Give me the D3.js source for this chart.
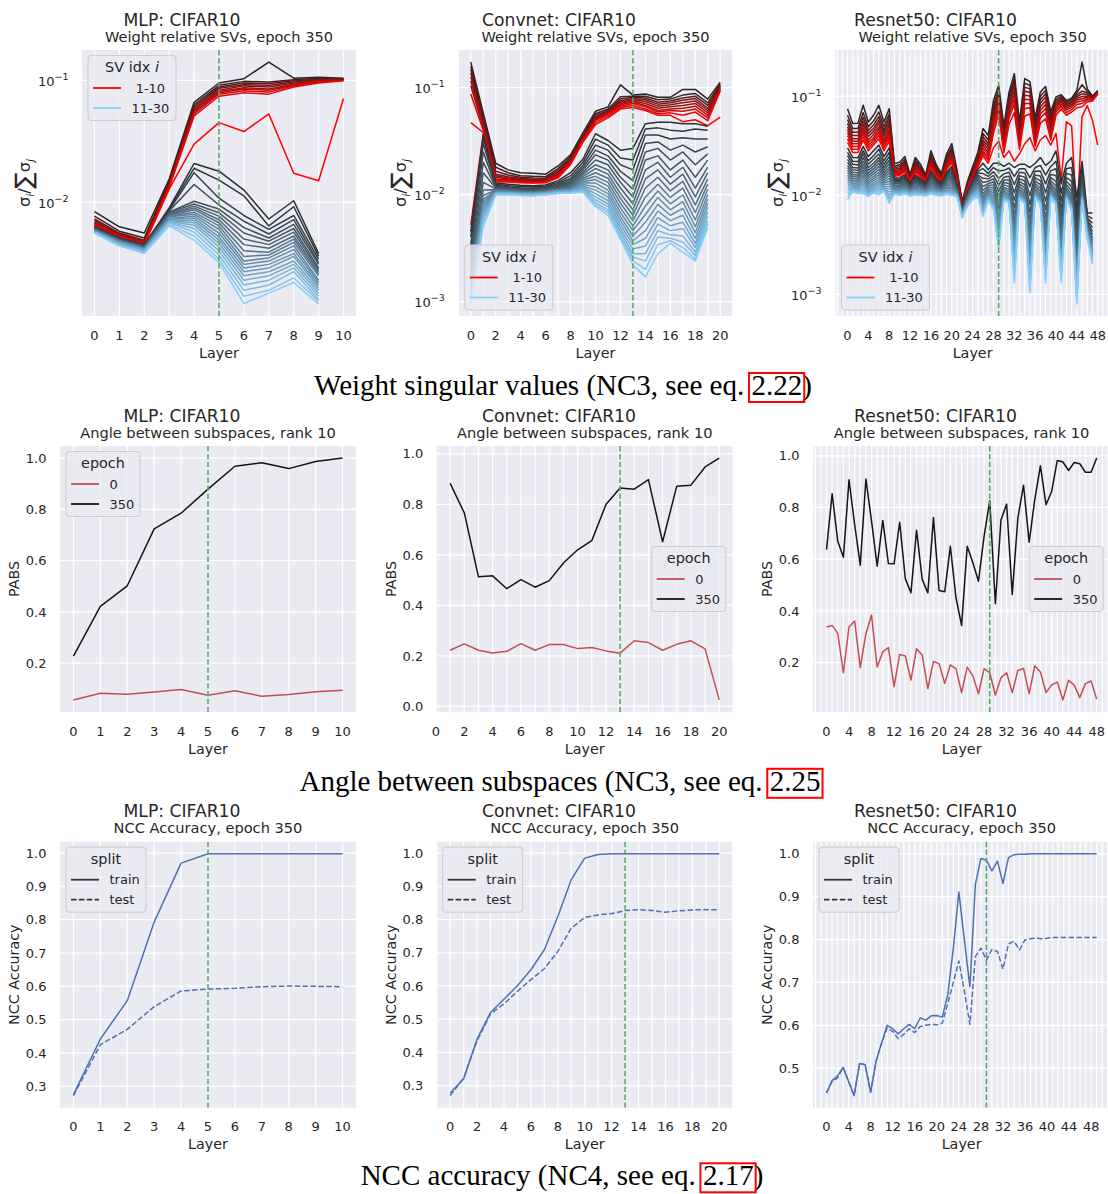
<!DOCTYPE html>
<html>
<head>
<meta charset="utf-8">
<script src="https://cdn.jsdelivr.net/npm/d3@7"></script>
<style>
  body { margin: 0; background: #fff; }
  svg text { font-family: "DejaVu Sans", sans-serif; fill: #262626; }
  .tick { font-size: 13px; }
  .lab { font-size: 14.3px; }
  .sub { font-size: 14.6px; }
  .sup { font-size: 17.2px; }
  svg text.cap { font-family: "Liberation Serif", serif; font-size: 29px; fill: #000; }
</style>
</head>
<body>
<svg id="fig" width="1108" height="1194"></svg>
<script>
// ---------- data: relative singular values, one column per layer, SV index 1..30 ----------
const mlpSV = [
  [.0084,.0077,.0073,.0071,.0069,.0068,.0067,.0066,.0065,.0064,.0063,.0063,.0062,.0062,.0061,.0061,.006,.006,.006,.0059,.0059,.0059,.0058,.0058,.0058,.0057,.0057,.0057,.0056,.0056],
  [.0063,.0058,.0056,.0055,.0054,.0054,.0053,.0053,.0052,.0052,.0051,.0051,.005,.005,.005,.0049,.0049,.0049,.0048,.0048,.0048,.0047,.0047,.0047,.0046,.0046,.0045,.0045,.0044,.0044],
  [.0056,.0051,.0049,.0048,.0048,.0047,.0047,.0046,.0046,.0045,.0045,.0045,.0044,.0044,.0044,.0043,.0043,.0043,.0042,.0042,.0042,.0041,.0041,.0041,.004,.004,.004,.0039,.0039,.0038],
  [.0155,.015,.0146,.0143,.014,.0138,.0136,.0134,.0132,.0128,.009,.0088,.0086,.0085,.0083,.0082,.008,.0079,.0078,.0077,.0076,.0074,.0073,.0072,.0071,.007,.0069,.0068,.0066,.0064],
  [.066,.063,.061,.059,.057,.056,.055,.053,.051,.030,.0208,.019,.0175,.014,.0102,.0097,.0093,.009,.0087,.0083,.008,.0077,.0074,.0071,.0068,.0065,.0061,.0057,.0053,.0049],
  [.095,.091,.088,.086,.083,.081,.079,.077,.074,.045,.018,.0152,.0108,.0095,.0088,.0082,.0077,.0072,.0068,.0064,.006,.0056,.0052,.0049,.0046,.0043,.004,.0037,.0034,.0032],
  [.103,.098,.095,.092,.09,.087,.085,.082,.079,.038,.0126,.0113,.0078,.007,.0062,.0056,.005,.0045,.004,.0036,.0033,.0031,.0029,.0027,.0025,.0023,.0021,.0019,.0017,.00148],
  [.141,.097,.094,.091,.088,.085,.083,.08,.077,.053,.0073,.0064,.006,.0055,.0051,.0048,.0045,.0042,.0039,.0037,.0035,.0033,.0031,.0029,.0027,.0025,.0023,.0021,.0019,.0018],
  [.104,.101,.099,.097,.095,.093,.091,.09,.088,.0173,.0103,.0092,.0078,.0072,.0066,.0061,.0057,.0053,.005,.0047,.0044,.0041,.0038,.0036,.0033,.0031,.0029,.0027,.0024,.0022],
  [.106,.104,.102,.101,.1,.099,.098,.097,.095,.015,.0038,.0036,.0034,.0032,.0031,.0029,.0028,.0027,.0026,.0025,.0023,.0022,.0021,.002,.0019,.0018,.0017,.0016,.00155,.00147],
  [.104,.103,.102,.102,.101,.101,.1,.1,.099,.071]
];
const convSV = [
  [.173,.158,.147,.137,.126,.115,.104,.087,.047,.0052,.0045,.004,.0034,.003,.0027,.0024,.0022,.002,.0019,.0018,.0017,.0016,.0015,.0014,.0013,.0012,.0011,.001,.00098,.00095],
  [.058,.054,.051,.048,.046,.044,.042,.04,.038,.037,.036,.034,.03,.025,.02,.016,.013,.011,.0098,.009,.0085,.008,.0076,.0072,.0068,.0064,.006,.0056,.0053,.005],
  [.0196,.018,.0165,.0155,.015,.0145,.014,.0137,.0134,.0132,.0128,.0125,.0122,.0119,.0117,.0115,.0113,.0111,.011,.0109,.0108,.0107,.0106,.0105,.0104,.0103,.0102,.0101,.01,.0099],
  [.017,.016,.0152,.0147,.0143,.014,.0137,.0135,.0133,.0131,.0125,.0121,.0118,.0116,.0114,.0112,.0111,.011,.0109,.0108,.0107,.0106,.0105,.0104,.0104,.0103,.0102,.0101,.01,.0099],
  [.016,.015,.0145,.0141,.0138,.0136,.0134,.0132,.013,.0129,.0122,.0119,.0116,.0114,.0112,.011,.0109,.0108,.0107,.0106,.0105,.0104,.0103,.0103,.0102,.0101,.01,.0099,.0099,.0098],
  [.0158,.0148,.0143,.0139,.0136,.0134,.0132,.013,.0129,.0128,.0121,.0118,.0115,.0113,.0111,.0109,.0108,.0107,.0106,.0105,.0104,.0103,.0103,.0102,.0101,.01,.01,.0099,.0098,.0097],
  [.0155,.0147,.0142,.0138,.0136,.0134,.0132,.0131,.013,.0129,.0123,.012,.0117,.0115,.0113,.0111,.011,.0109,.0108,.0107,.0106,.0105,.0104,.0104,.0103,.0102,.0101,.0101,.01,.0099],
  [.0185,.0175,.0168,.0162,.0158,.0155,.0152,.0149,.0146,.0143,.0135,.013,.0126,.0122,.0119,.0117,.0115,.0113,.0112,.0111,.011,.0109,.0108,.0107,.0106,.0105,.0104,.0104,.0103,.0102],
  [.0235,.0225,.0218,.0212,.0207,.0203,.02,.0197,.0194,.019,.016,.015,.0142,.0136,.0131,.0127,.0123,.012,.0117,.0115,.0113,.0111,.011,.0109,.0108,.0107,.0106,.0105,.0104,.0103],
  [.038,.036,.035,.034,.0335,.033,.0325,.032,.0315,.031,.0215,.02,.0188,.0178,.017,.0162,.0155,.0148,.0142,.0137,.0132,.0128,.0124,.012,.0117,.0114,.0111,.0109,.0107,.0105],
  [.06,.057,.055,.053,.052,.051,.05,.049,.047,.045,.037,.033,.029,.026,.0235,.021,.019,.0175,.016,.0148,.0138,.0128,.0118,.011,.0102,.0095,.0089,.0084,.008,.0077],
  [.066,.063,.061,.06,.059,.058,.057,.056,.054,.052,.032,.029,.026,.023,.021,.019,.017,.0155,.0142,.013,.012,.011,.0102,.0095,.0088,.0082,.0077,.0072,.0068,.0064],
  [.106,.082,.078,.075,.073,.071,.069,.067,.065,.063,.026,.022,.019,.0165,.0145,.013,.0115,.0102,.0092,.0083,.0075,.0068,.0062,.0057,.0052,.0048,.0045,.0042,.004,.0038],
  [.085,.083,.081,.079,.077,.075,.073,.071,.068,.065,.027,.021,.017,.0135,.0112,.0095,.0082,.0072,.0064,.0057,.0051,.0046,.0041,.0037,.0034,.0031,.0028,.0026,.0024,.0022],
  [.087,.083,.08,.077,.074,.071,.068,.066,.063,.061,.046,.041,.036,.03,.025,.021,.017,.014,.0115,.0095,.0078,.0065,.0055,.0046,.0039,.0033,.0028,.0024,.002,.0017],
  [.081,.077,.073,.07,.067,.064,.061,.059,.057,.055,.0475,.042,.036,.031,.027,.023,.02,.017,.0145,.0125,.0108,.0094,.0081,.007,.0061,.0053,.0046,.004,.0034,.0028],
  [.081,.078,.075,.072,.069,.066,.063,.061,.058,.055,.0475,.04,.033,.026,.021,.017,.0145,.0125,.0108,.0094,.0082,.0072,.0064,.0057,.0051,.0046,.0042,.0039,.0037,.0035],
  [.096,.085,.08,.076,.072,.068,.064,.06,.055,.048,.046,.039,.034,.029,.025,.021,.018,.0155,.0133,.0115,.0099,.0086,.0074,.0064,.0055,.0048,.0041,.0036,.0032,.0029],
  [.096,.088,.083,.079,.075,.071,.067,.063,.059,.05,.046,.041,.033,.025,.019,.0145,.0115,.0095,.008,.0068,.0058,.005,.0044,.0039,.0035,.0032,.0029,.0027,.0025,.0024],
  [.078,.072,.068,.064,.061,.058,.055,.052,.049,.044,.0435,.04,.033,.028,.024,.021,.018,.016,.014,.0125,.0112,.01,.0091,.0083,.0076,.0069,.0063,.0057,.0053,.0049],
  [.112,.108,.105,.103,.101,.099,.097,.095,.093,.053]
];
const resSV = [
  [.0746,.064,.058,.053,.049,.046,.043,.04,.037,.034,.03,.027,.025,.023,.0215,.02,.019,.018,.017,.016,.0152,.0144,.0137,.013,.0123,.0117,.0111,.0105,.0098,.009],
  [.0527,.047,.043,.04,.037,.035,.033,.031,.029,.027,.024,.022,.0205,.019,.018,.017,.0162,.0155,.0148,.0142,.0137,.0132,.0128,.0124,.012,.0117,.0114,.0112,.011,.0108],
  [.053,.047,.043,.04,.037,.035,.033,.031,.029,.027,.0238,.0218,.0202,.0188,.0177,.0167,.0159,.0152,.0145,.0139,.0134,.0129,.0124,.012,.0116,.0113,.011,.0108,.0106,.0104],
  [.0806,.068,.061,.056,.052,.048,.045,.042,.039,.036,.031,.028,.026,.024,.022,.0205,.0192,.018,.017,.016,.0151,.0143,.0136,.013,.0124,.0119,.0114,.011,.0107,.0104],
  [.0548,.049,.045,.042,.039,.036,.034,.032,.03,.028,.0245,.0222,.0205,.019,.0178,.0167,.0158,.015,.0142,.0135,.0129,.0123,.0118,.0113,.0109,.0106,.0103,.0101,.0099,.0097],
  [.064,.056,.051,.047,.044,.041,.038,.036,.034,.032,.028,.025,.023,.021,.0197,.0185,.0174,.0164,.0155,.0147,.014,.0133,.0127,.0122,.0117,.0113,.011,.0108,.0106,.0105],
  [.0806,.069,.062,.057,.053,.049,.046,.043,.04,.037,.032,.029,.026,.024,.0225,.021,.0195,.0182,.017,.016,.0151,.0143,.0136,.013,.0124,.0119,.0114,.011,.0105,.0101],
  [.0548,.049,.045,.042,.039,.036,.034,.032,.03,.028,.0245,.0222,.0205,.019,.0178,.0167,.0158,.015,.0143,.0137,.0132,.0127,.0123,.0119,.0116,.0114,.0112,.0111,.011,.0109],
  [.0746,.066,.06,.055,.051,.047,.044,.041,.038,.035,.03,.027,.0245,.0225,.0208,.0193,.018,.0168,.0157,.0147,.0138,.013,.0122,.0115,.0108,.0102,.0097,.0092,.0087,.0083],
  [.0209,.0197,.0189,.0183,.0177,.0172,.0167,.0163,.0159,.0155,.0148,.0144,.014,.0136,.0133,.013,.0127,.0124,.0121,.0118,.0116,.0114,.0112,.011,.0108,.0107,.0105,.0104,.0103,.0102],
  [.0215,.0203,.0194,.0187,.0181,.0176,.0171,.0166,.0162,.0158,.015,.0145,.0141,.0137,.0133,.013,.0126,.0123,.012,.0117,.0115,.0113,.0111,.0109,.0107,.0105,.0104,.0102,.0101,.01],
  [.0245,.023,.0219,.021,.0202,.0195,.0189,.0183,.0177,.0172,.0162,.0156,.015,.0145,.014,.0136,.0132,.0128,.0124,.0121,.0118,.0116,.0114,.0112,.011,.0108,.0107,.0105,.0104,.0103],
  [.0162,.0156,.0152,.0149,.0146,.0143,.0141,.0139,.0137,.0135,.0131,.0128,.0126,.0124,.0122,.012,.0118,.0116,.0114,.0112,.0111,.0109,.0108,.0106,.0105,.0104,.0102,.0101,.0099,.0098],
  [.024,.0226,.0216,.0207,.0199,.0192,.0186,.018,.0175,.017,.016,.0154,.0149,.0144,.0139,.0135,.0131,.0127,.0123,.012,.0117,.0115,.0113,.0111,.0109,.0107,.0105,.0104,.0102,.0101],
  [.0205,.0194,.0186,.018,.0175,.017,.0166,.0162,.0158,.0154,.0147,.0143,.0139,.0135,.0132,.0129,.0126,.0123,.012,.0117,.0115,.0113,.0111,.0109,.0107,.0105,.0104,.0102,.0101,.01],
  [.016,.0154,.015,.0147,.0144,.0142,.014,.0138,.0136,.0134,.013,.0127,.0125,.0123,.0121,.0119,.0117,.0115,.0113,.0111,.011,.0108,.0107,.0105,.0104,.0103,.0102,.0101,.0099,.0098],
  [.028,.026,.0247,.0236,.0226,.0218,.021,.0203,.0196,.019,.0177,.0169,.0162,.0155,.0149,.0143,.0138,.0133,.0128,.0124,.012,.0117,.0114,.0112,.011,.0108,.0106,.0105,.0104,.0103],
  [.0205,.0194,.0186,.018,.0175,.017,.0166,.0162,.0158,.0154,.0147,.0143,.0139,.0135,.0132,.0129,.0126,.0123,.012,.0117,.0115,.0113,.0111,.0109,.0107,.0105,.0104,.0102,.0101,.01],
  [.0166,.016,.0155,.0151,.0148,.0145,.0142,.014,.0138,.0136,.0131,.0128,.0126,.0124,.0122,.012,.0118,.0116,.0114,.0112,.0111,.0109,.0108,.0106,.0105,.0104,.0102,.0101,.0099,.0098],
  [.026,.0243,.0231,.0221,.0213,.0206,.0199,.0193,.0187,.0182,.0171,.0164,.0158,.0152,.0146,.0141,.0136,.0131,.0127,.0123,.0119,.0116,.0113,.0111,.0109,.0107,.0105,.0104,.0103,.0102],
  [.0332,.0305,.0288,.0273,.026,.0249,.0239,.023,.0221,.0213,.0195,.0184,.0174,.0165,.0157,.015,.0143,.0137,.0131,.0126,.0121,.0117,.0113,.011,.0107,.0105,.0103,.0102,.0101,.01],
  [.018,.0168,.016,.0155,.015,.0146,.0142,.0139,.0136,.0133,.0129,.0126,.0123,.0121,.0118,.0116,.0114,.0112,.011,.0109,.0107,.0106,.0104,.0103,.0102,.0101,.01,.0099,.0098,.0097],
  [.0087,.0085,.0083,.0082,.0081,.008,.0079,.0078,.0077,.0076,.0075,.0074,.0073,.0072,.0071,.007,.0069,.0068,.0067,.0066,.0065,.0065,.0064,.0063,.0062,.0062,.0061,.006,.006,.0059],
  [.0137,.0131,.0127,.0124,.0121,.0119,.0117,.0115,.0113,.0111,.0108,.0106,.0104,.0102,.01,.0098,.0096,.0094,.0092,.0091,.0089,.0088,.0086,.0085,.0083,.0082,.0081,.0079,.0078,.0077],
  [.0194,.0182,.0175,.0169,.0164,.016,.0156,.0153,.015,.0147,.0142,.0138,.0134,.013,.0127,.0124,.0121,.0118,.0115,.0112,.011,.0107,.0105,.0103,.0101,.0099,.0097,.0095,.0092,.009],
  [.027,.025,.0238,.0228,.022,.0213,.0207,.0202,.0197,.0192,.0182,.0174,.0167,.016,.0154,.0148,.0143,.0138,.0133,.0129,.0125,.0121,.0117,.0114,.0111,.0108,.0105,.0102,.0099,.0096],
  [.047,.042,.039,.036,.034,.032,.03,.028,.0265,.025,.021,.0185,.0165,.0148,.0134,.0122,.0112,.0104,.0097,.0091,.0086,.0081,.0077,.0074,.0071,.0069,.0067,.0065,.0063,.0061],
  [.04,.036,.033,.031,.029,.027,.0255,.024,.0225,.021,.018,.0165,.0155,.0146,.0138,.0131,.0125,.012,.0115,.0111,.0107,.0104,.0101,.0098,.0096,.0094,.0092,.009,.0089,.0088],
  [.09,.08,.073,.067,.062,.057,.052,.047,.042,.03,.021,.019,.0172,.0158,.0146,.0136,.0127,.0119,.0112,.0106,.01,.0095,.009,.0086,.0083,.008,.0078,.0076,.0074,.0072],
  [.128,.118,.11,.103,.096,.089,.082,.074,.065,.035,.021,.0175,.0148,.0126,.0109,.0095,.0084,.0075,.0067,.006,.0055,.005,.0046,.0042,.0039,.0036,.0034,.0032,.003,.0029],
  [.05,.045,.041,.038,.035,.033,.031,.029,.027,.024,.0195,.0178,.0164,.0152,.0142,.0134,.0127,.012,.0115,.011,.0106,.0102,.0099,.0097,.0095,.0093,.0092,.0091,.009,.0089],
  [.11,.1,.092,.085,.078,.072,.066,.06,.052,.028,.021,.0188,.017,.0155,.0142,.0131,.0122,.0114,.0108,.0103,.0099,.0096,.0093,.0091,.0089,.0088,.0087,.0086,.0085,.0084],
  [.168,.15,.138,.126,.115,.104,.094,.083,.068,.022,.019,.0155,.0128,.0106,.0089,.0075,.0064,.0055,.0048,.0042,.0037,.0033,.0029,.0026,.0023,.0021,.0018,.0016,.0014,.0013],
  [.055,.049,.045,.041,.038,.035,.033,.031,.029,.026,.0205,.0185,.017,.0157,.0146,.0137,.0129,.0122,.0116,.0111,.0107,.0104,.0101,.0099,.0097,.0096,.0095,.0094,.0093,.0092],
  [.15,.135,.123,.112,.102,.093,.084,.075,.063,.033,.0205,.0185,.0167,.0152,.0139,.0128,.0119,.0111,.0105,.01,.0096,.0093,.009,.0088,.0087,.0086,.0085,.0084,.0083,.0082],
  [.14,.128,.118,.109,.1,.092,.084,.076,.066,.038,.019,.015,.0122,.0099,.0081,.0067,.0056,.0047,.004,.0034,.0029,.0025,.0022,.0019,.0017,.0015,.0013,.0012,.0011,.00104],
  [.06,.054,.049,.045,.042,.039,.036,.034,.031,.028,.021,.019,.0174,.016,.0149,.0139,.0131,.0124,.0118,.0113,.0109,.0106,.0103,.0101,.0099,.0098,.0097,.0096,.0095,.0094],
  [.11,.1,.092,.085,.078,.072,.066,.06,.053,.036,.024,.02,.0175,.0156,.014,.0128,.0118,.011,.0104,.0099,.0095,.0092,.0089,.0087,.0086,.0085,.0084,.0083,.0082,.0081],
  [.125,.114,.105,.097,.089,.082,.075,.068,.059,.04,.02,.016,.013,.0106,.0087,.0072,.006,.005,.0042,.0036,.0031,.0027,.0024,.0021,.0019,.0017,.0016,.0015,.0014,.0013],
  [.07,.063,.058,.053,.049,.045,.042,.039,.036,.032,.022,.0195,.0177,.0162,.015,.014,.0131,.0124,.0118,.0113,.0109,.0106,.0104,.0102,.01,.0099,.0098,.0097,.0096,.0095],
  [.098,.093,.089,.085,.081,.077,.073,.069,.064,.042,.028,.022,.0185,.0158,.0138,.0124,.0113,.0105,.0099,.0095,.0092,.0089,.0087,.0086,.0085,.0084,.0083,.0082,.0081,.008],
  [.103,.099,.096,.093,.09,.087,.083,.079,.074,.0143,.013,.0105,.0087,.0073,.0062,.0053,.0046,.004,.0035,.0031,.0028,.0025,.0022,.002,.0018,.0017,.0016,.0015,.0014,.0013],
  [.09,.087,.084,.081,.078,.075,.072,.068,.064,.055,.021,.0185,.0166,.015,.0138,.0128,.012,.0114,.0109,.0105,.0102,.01,.0098,.0097,.0096,.0095,.0094,.0093,.0092,.0091],
  [.095,.092,.089,.086,.083,.08,.077,.073,.069,.05,.024,.019,.016,.0138,.0122,.011,.0101,.0094,.0089,.0085,.0082,.008,.0078,.0076,.0075,.0074,.0073,.0072,.0071,.007],
  [.114,.108,.103,.099,.095,.091,.087,.082,.076,.0054,.0095,.0075,.006,.0049,.0041,.0034,.0029,.0025,.0022,.0019,.0017,.0015,.0014,.0013,.0012,.0011,.001,.0009,.00085,.0008],
  [.22,.13,.112,.105,.099,.094,.089,.084,.078,.062,.022,.019,.0168,.015,.0137,.0127,.0119,.0112,.0107,.0103,.01,.0098,.0096,.0095,.0094,.0093,.0092,.0091,.009,.0089],
  [.118,.112,.108,.104,.1,.097,.094,.091,.087,.08,.0066,.0062,.0059,.0057,.0055,.0053,.0051,.0049,.0048,.0046,.0045,.0044,.0043,.0042,.0041,.004,.0039,.0038,.0037,.0036],
  [.1,.098,.096,.095,.094,.093,.092,.091,.089,.057,.0066,.0058,.0052,.0047,.0043,.004,.0037,.0035,.0033,.0031,.0029,.0028,.0027,.0026,.0025,.0024,.0023,.0022,.0021,.002],
  [.114,.112,.111,.11,.109,.108,.107,.106,.104,.032]
];
const svGroups = ['\u00a01-10', '11-30'];

// ---------- data: principal angles between subspaces ----------
const mlpPabs0   = [.057,.083,.079,.088,.098,.075,.093,.071,.078,.089,.095];
const mlpPabs350 = [.228,.422,.502,.724,.785,.879,.968,.982,.959,.987,1.0];
const convPabsLayers = [1,2,3,4,5,6,7,8,9,10,11,12,13,14,15,16,17,18,19,20];
const convPabs0   = [.2225,.248,.2225,.212,.2185,.249,.2225,.245,.245,.229,.233,.22,.211,.26,.253,.2225,.246,.26,.228,.026];
const convPabs350 = [.883,.766,.513,.517,.466,.502,.472,.498,.568,.62,.656,.799,.865,.86,.898,.652,.872,.876,.948,.983];
const resPabs0   = [.338,.344,.313,.161,.338,.361,.181,.312,.384,.183,.242,.258,.107,.232,.226,.133,.254,.23,.1,.205,.196,.12,.191,.177,.084,.183,.149,.08,.177,.161,.075,.142,.161,.084,.17,.178,.08,.187,.164,.084,.114,.125,.056,.132,.113,.065,.119,.129,.059];
const resPabs350 = [.637,.853,.669,.608,.907,.734,.577,.91,.747,.573,.75,.583,.582,.743,.525,.47,.712,.522,.47,.761,.479,.474,.65,.451,.344,.65,.586,.515,.689,.826,.428,.753,.813,.464,.76,.886,.666,.83,.961,.811,.862,.982,.976,.943,.974,.969,.936,.936,.991];
const epochs = ['0', '350'];

// ---------- data: NCC accuracy ----------
const mlpNccTrain = [.275,.442,.557,.793,.97,.998,.998,.998,.998,.998,.998];
const mlpNccTest  = [.272,.425,.471,.539,.586,.592,.594,.599,.601,.6,.599];
const convNccTrain = [.278,.32,.44,.52,.56,.601,.649,.709,.809,.92,.985,.996,.998,.998,.998,.998,.998,.998,.998,.998,.998];
const convNccTest  = [.27,.323,.435,.516,.546,.584,.619,.652,.704,.774,.806,.814,.818,.827,.83,.827,.822,.826,.829,.83,.829];
const resNccTrain = [.442,.471,.482,.502,.469,.436,.511,.508,.444,.517,.559,.6,.592,.58,.592,.602,.592,.617,.612,.622,.623,.619,.672,.78,.911,.8,.69,.929,.989,.985,.96,.983,.931,.991,.998,.999,.999,1,1,1,1,1,1,1,1,1,1,1,1,1];
const resNccTest  = [.442,.469,.477,.502,.469,.436,.511,.508,.444,.517,.559,.594,.586,.569,.579,.592,.583,.597,.6,.602,.601,.605,.652,.7,.75,.68,.602,.76,.78,.752,.777,.772,.731,.79,.796,.776,.799,.802,.803,.802,.803,.805,.805,.805,.805,.805,.805,.805,.805,.805];
const splits = ['train', 'test'];

// layer picked out by the green dashed line
const mlpMark = 5, convMark = 13, resMark = 29;

// ---------- layout ----------
const svg = d3.select('#fig');
const rowsY = [[50, 316], [446, 712], [841.7, 1107.7]];
const svCols = [[82, 356], [458.3, 732.7], [835, 1110.2]];
const stdCols = [[60, 356], [436.7, 732.7], [813, 1110.2]];
const supCenters = [182, 559, 935.5];
const nets = ['MLP: CIFAR10', 'Convnet: CIFAR10', 'Resnet50: CIFAR10'];

const pad = ([a, b]) => [a - 0.05 * (b - a), b + 0.05 * (b - a)];
const padLog = ([a, b]) => {
  const la = Math.log10(a), lb = Math.log10(b), r = lb - la;
  return [10 ** (la - 0.05 * r), 10 ** (lb + 0.05 * r)];
};
const ext = arrs => d3.extent(arrs.flat().filter(v => v != null));

let clipCount = 0;
function panel(o) {
  const [x0, x1] = o.cols, [y0, y1] = o.rows;
  const x = d3.scaleLinear().domain(o.xdom).range([x0, x1]);
  const y = (o.log ? d3.scaleLog() : d3.scaleLinear()).domain(o.ydom).range([y1, y0]);
  const g = svg.append('g');
  g.append('rect').attr('x', x0).attr('y', y0).attr('width', x1 - x0).attr('height', y1 - y0).attr('fill', '#eaeaf2');
  const id = 'clip' + (clipCount++);
  svg.append('clipPath').attr('id', id).append('rect')
    .attr('x', x0).attr('y', y0).attr('width', x1 - x0).attr('height', y1 - y0);

  const gridX = d3.range(Math.ceil(o.xdom[0]), Math.floor(o.xdom[1]) + 1);
  g.append('g').selectAll('line').data(gridX).join('line')
    .attr('x1', d => x(d)).attr('x2', d => x(d)).attr('y1', y0).attr('y2', y1)
    .attr('stroke', '#fff').attr('stroke-width', 1.25);
  const yt = o.yticks.filter(v => v >= o.ydom[0] && v <= o.ydom[1]);
  g.append('g').selectAll('line').data(yt).join('line')
    .attr('x1', x0).attr('x2', x1).attr('y1', d => y(d)).attr('y2', d => y(d))
    .attr('stroke', '#fff').attr('stroke-width', 1.25);

  g.append('g').selectAll('text').data(o.xticks.filter(v => v >= o.xdom[0] - 0.1 && v <= o.xdom[1]))
    .join('text').attr('class', 'tick').attr('text-anchor', 'middle')
    .attr('x', d => x(d)).attr('y', y1 + 23.5).text(d => d);
  const yl = g.append('g').selectAll('text').data(yt).join('text')
    .attr('class', 'tick').attr('text-anchor', 'end')
    .attr('x', x0 - 13.5).attr('y', d => y(d) + (o.log ? 5.5 : 4.7));
  if (o.log) {
    yl.append('tspan').text('10');
    yl.append('tspan').attr('dy', -6).style('font-size', '9.5px')
      .text(d => '\u2212' + Math.round(-Math.log10(d)));
  } else {
    yl.text(d => d.toFixed(1));
  }

  svg.append('text').attr('class', 'sup').attr('text-anchor', 'middle')
    .attr('x', o.supX).attr('y', y0 - 24.3).text(o.sup);
  svg.append('text').attr('class', 'sub').attr('text-anchor', 'middle')
    .attr('x', (x0 + x1) / 2).attr('y', y0 - 8.3).text(o.sub);
  svg.append('text').attr('class', 'lab').attr('text-anchor', 'middle')
    .attr('x', (x0 + x1) / 2).attr('y', y1 + 41.5).text('Layer');

  const cy = (y0 + y1) / 2;
  if (o.ylabel) {
    svg.append('text').attr('class', 'lab').attr('text-anchor', 'middle')
      .attr('transform', `translate(${x0 - 46 + 5},${cy}) rotate(-90)`).text(o.ylabel);
  } else {
    // sigma_i / sum sigma_j
    const t = svg.append('text').attr('text-anchor', 'middle').style('font-size', '16px')
      .attr('transform', `translate(${x0 - 58 + 5.5},${cy}) rotate(-90)`);
    t.append('tspan').text('\u03c3');
    t.append('tspan').attr('dy', 4).style('font-size', '11px').style('font-style', 'italic').text('i');
    t.append('tspan').attr('dy', -4).text('/');
    t.append('tspan').attr('dy', 2.5).style('font-size', '24px').text('\u2211');
    t.append('tspan').attr('dy', -2.5).text('\u03c3');
    t.append('tspan').attr('dy', 4).style('font-size', '11px').style('font-style', 'italic').text('j');
  }

  const plot = svg.append('g').attr('clip-path', `url(#${id})`);
  return { x, y, plot, x0, x1, y0, y1 };
}

function series(p, xs, ys, color, dash, width) {
  const pts = ys.map((v, i) => [xs ? xs[i] : i, v]);
  p.plot.append('path').datum(pts)
    .attr('d', d3.line().defined(d => d[1] != null).x(d => p.x(d[0])).y(d => p.y(d[1])))
    .attr('fill', 'none').attr('stroke', color).attr('stroke-width', width || 1.5)
    .attr('stroke-linejoin', 'round').attr('stroke-dasharray', dash || null);
}

function mark(p, layer) {
  p.plot.append('line').attr('x1', p.x(layer)).attr('x2', p.x(layer)).attr('y1', p.y0).attr('y2', p.y1)
    .attr('stroke', '#55a868').attr('stroke-width', 1.6).attr('stroke-dasharray', '5.5,2.4');
}

function legend(p, spec) {
  const w = spec.w, h = 65;
  let bx, by;
  if (spec.loc === 'upper left') { bx = p.x0 + 6; by = p.y0 + 5.5; }
  else if (spec.loc === 'lower left') { bx = p.x0 + 6.5; by = p.y1 - 6 - h; }
  else { bx = p.x1 - 7 - w; by = (p.y0 + p.y1) / 2 - h / 2; }
  const g = svg.append('g');
  g.append('rect').attr('x', bx).attr('y', by).attr('width', w).attr('height', h).attr('rx', 3)
    .attr('fill', '#eaeaf2').attr('fill-opacity', 0.8).attr('stroke', '#cccccc');
  const t = g.append('text').attr('x', bx + w / 2).attr('y', by + 16.5).attr('text-anchor', 'middle')
    .style('font-size', '14.4px');
  t.append('tspan').text(spec.title);
  if (spec.titleItalic) t.append('tspan').style('font-style', 'italic').text(spec.titleItalic);
  spec.entries.forEach((e, i) => {
    const yy = by + 32.5 + 20 * i;
    g.append('line').attr('x1', bx + 5).attr('x2', bx + 33).attr('y1', yy).attr('y2', yy)
      .attr('stroke', e.color).attr('stroke-width', 1.8).attr('stroke-dasharray', e.dash || null);
    g.append('text').attr('x', bx + 43.5).attr('y', yy + 4.7).style('font-size', '13px').text(e.label);
  });
}

// ---------- row 1: weight singular values ----------
const redRamp = d3.interpolateRgb('#2b2424', '#ff0000');
const blueRamp = d3.interpolateRgb('#2b2e31', '#87cefa');
const svColor = k => k < 10 ? redRamp(k / 9) : blueRamp((k - 10) / 19);

const svSets = [mlpSV, convSV, resSV];
const svTicks = [d3.range(0, 11), d3.range(0, 21, 2), d3.range(0, 49, 4)];
const svMarks = [mlpMark, convMark, resMark];
const svLegendLoc = ['upper left', 'lower left', 'lower left'];
svSets.forEach((cols, c) => {
  const p = panel({
    cols: svCols[c], rows: rowsY[0], log: true,
    xdom: pad([0, cols.length - 1]), ydom: padLog(ext(cols)),
    xticks: svTicks[c], yticks: [1e-3, 1e-2, 1e-1],
    supX: supCenters[c], sup: nets[c], sub: 'Weight relative SVs, epoch 350'
  });
  for (let k = 0; k < 30; k++) series(p, null, cols.map(col => col[k]), svColor(k));
  mark(p, svMarks[c]);
  legend(p, { loc: svLegendLoc[c], w: 88, title: 'SV idx ', titleItalic: 'i',
    entries: [{ label: svGroups[0], color: svColor(9) }, { label: svGroups[1], color: svColor(29) }] });
});

// ---------- row 2: angle between subspaces ----------
const pabsSets = [
  [null, mlpPabs0, mlpPabs350, mlpMark, 'upper left'],
  [convPabsLayers, convPabs0, convPabs350, convMark, 'center right'],
  [null, resPabs0, resPabs350, resMark, 'center right']
];
const pabsColors = ['#c44e52', '#151515'];
pabsSets.forEach(([xs, e0, e350, m, loc], c) => {
  const layers = xs || e0.map((_, i) => i);
  const p = panel({
    cols: stdCols[c], rows: rowsY[1],
    xdom: pad(d3.extent(layers)), ydom: pad(ext([e0, e350])),
    xticks: svTicks[c], yticks: [0, 0.2, 0.4, 0.6, 0.8, 1.0],
    supX: supCenters[c], sup: nets[c], sub: 'Angle between subspaces, rank 10', ylabel: 'PABS'
  });
  series(p, layers, e0, pabsColors[0]);
  series(p, layers, e350, pabsColors[1]);
  mark(p, m);
  legend(p, { loc, w: 74, title: 'epoch',
    entries: [{ label: epochs[0], color: pabsColors[0] }, { label: epochs[1], color: pabsColors[1] }] });
});

// ---------- row 3: NCC accuracy ----------
const nccSets = [
  [mlpNccTrain, mlpNccTest, mlpMark],
  [convNccTrain, convNccTest, convMark],
  [resNccTrain, resNccTest, resMark]
];
nccSets.forEach(([tr, te, m], c) => {
  const p = panel({
    cols: stdCols[c], rows: rowsY[2],
    xdom: pad([0, tr.length - 1]), ydom: pad(ext([tr, te])),
    xticks: svTicks[c], yticks: [0.3, 0.4, 0.5, 0.6, 0.7, 0.8, 0.9, 1.0],
    supX: supCenters[c], sup: nets[c], sub: 'NCC Accuracy, epoch 350', ylabel: 'NCC Accuracy'
  });
  series(p, null, tr, '#4c72b0');
  series(p, null, te, '#4c72b0', '5.5,2.4');
  mark(p, m);
  legend(p, { loc: 'upper left', w: 80, title: 'split',
    entries: [{ label: splits[0], color: '#333' }, { label: splits[1], color: '#333', dash: '5.5,2.4' }] });
});

// ---------- captions ----------
function caption(cx, y, pre, num, post) {
  const t = svg.append('text').attr('class', 'cap').attr('x', cx).attr('y', y).attr('text-anchor', 'middle');
  t.append('tspan').text(pre);
  t.append('tspan').text(num);
  if (post) t.append('tspan').text(post);
  const node = t.node();
  const s = node.getStartPositionOfChar(pre.length).x;
  const e = node.getEndPositionOfChar(pre.length + num.length - 1).x;
  svg.append('rect').attr('x', s - 2.5).attr('y', y - 21.7).attr('width', e - s + 4.5).attr('height', 29)
    .attr('fill', 'none').attr('stroke', '#ff0000').attr('stroke-width', 2);
}
caption(563, 394.7, 'Weight singular values (NC3, see eq. ', '2.22', ')');
caption(560, 790.5, 'Angle between subspaces (NC3, see eq. ', '2.25', '');
caption(562, 1185, 'NCC accuracy (NC4, see eq. ', '2.17', ')');
</script>
</body>
</html>
